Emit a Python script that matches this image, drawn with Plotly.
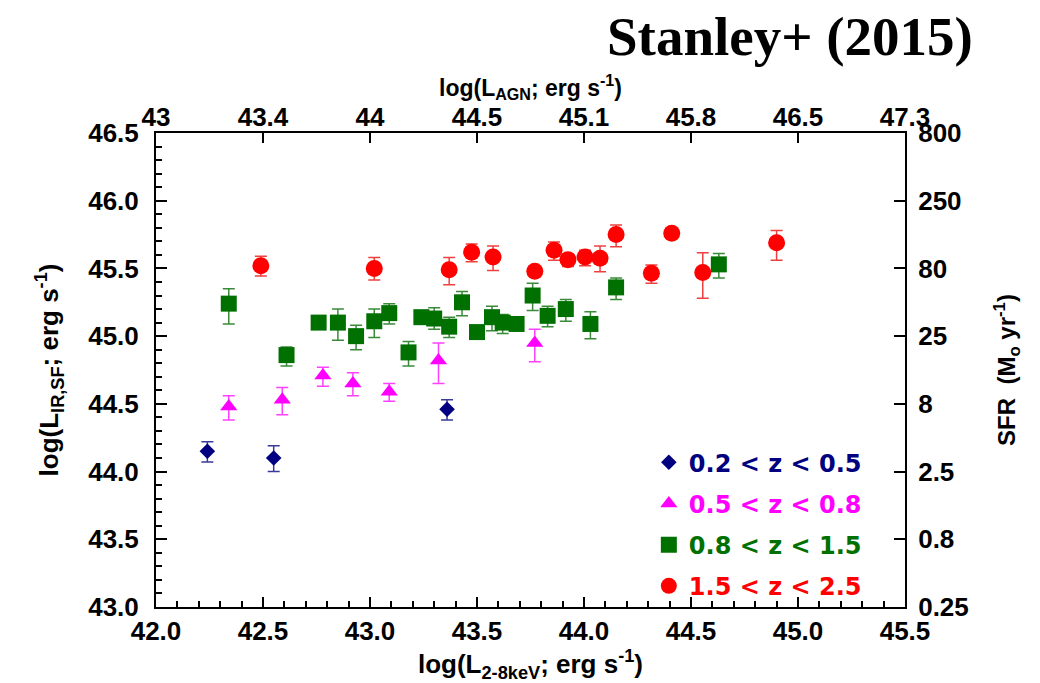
import plotly.graph_objects as go

# ---------------- data ----------------
# 0.2 < z < 0.5
x_z1 = [42.24, 42.55, 43.36]
y_z1 = [44.15, 44.10, 44.46]
ep_z1 = [0.07, 0.09, 0.07]
em_z1 = [0.08, 0.10, 0.08]

# 0.5 < z < 0.8
x_z2 = [42.34, 42.59, 42.78, 42.92, 43.09, 43.32, 43.77]
y_z2 = [44.48, 44.53, 44.71, 44.65, 44.59, 44.82, 44.95]
ep_z2 = [0.08, 0.09, 0.06, 0.08, 0.06, 0.13, 0.10]
em_z2 = [0.10, 0.11, 0.08, 0.09, 0.07, 0.17, 0.14]

# 0.8 < z < 1.5
x_z3 = [42.34, 42.61, 42.76, 42.85, 42.935, 43.02, 43.09, 43.18, 43.24, 43.30, 43.37,
        43.43, 43.50, 43.57, 43.62, 43.685, 43.76, 43.83, 43.915, 44.03, 44.15, 44.63]
y_z3 = [45.24, 44.86, 45.10, 45.10, 45.00, 45.11, 45.17, 44.88, 45.14, 45.13, 45.07,
        45.25, 45.03, 45.14, 45.10, 45.09, 45.30, 45.15, 45.20, 45.09, 45.36, 45.53]
ep_z3 = [0.11, 0.06, 0.04, 0.10, 0.08, 0.09, 0.07, 0.08, 0.04, 0.08, 0.07,
         0.08, 0.04, 0.08, 0.06, 0.04, 0.09, 0.07, 0.07, 0.09, 0.07, 0.08]
em_z3 = [0.15, 0.08, 0.04, 0.13, 0.10, 0.12, 0.08, 0.10, 0.04, 0.08, 0.08,
         0.10, 0.04, 0.10, 0.08, 0.04, 0.11, 0.08, 0.09, 0.11, 0.09, 0.10]

# 1.5 < z < 2.5
x_z4 = [42.49, 43.02, 43.37, 43.475, 43.575, 43.77, 43.86, 43.925, 44.005, 44.075,
        44.15, 44.315, 44.41, 44.555, 44.90]
y_z4 = [45.52, 45.50, 45.49, 45.62, 45.585, 45.48, 45.635, 45.565, 45.585, 45.575,
        45.75, 45.465, 45.76, 45.47, 45.69]
ep_z4 = [0.07, 0.08, 0.09, 0.06, 0.08, 0.03, 0.06, 0.04, 0.05, 0.09,
         0.07, 0.06, 0.03, 0.145, 0.09]
em_z4 = [0.075, 0.085, 0.11, 0.07, 0.10, 0.03, 0.075, 0.05, 0.065, 0.10,
         0.09, 0.075, 0.03, 0.19, 0.13]

# tick labels
x_tickvals = [42.0, 42.5, 43.0, 43.5, 44.0, 44.5, 45.0, 45.5]
x_ticktext = ["42.0", "42.5", "43.0", "43.5", "44.0", "44.5", "45.0", "45.5"]
agn_ticktext = ["43", "43.4", "44", "44.5", "45.1", "45.8", "46.5", "47.3"]
y_tickvals = [43.0, 43.5, 44.0, 44.5, 45.0, 45.5, 46.0, 46.5]
y_ticktext = ["43.0", "43.5", "44.0", "44.5", "45.0", "45.5", "46.0", "46.5"]
sfr_ticktext = ["0.25", "0.8", "2.5", "8", "25", "80", "250", "800"]

series = [
    ("0.2 &lt; z &lt; 0.5", "#000080", "#3a3a9a", "diamond", 12, x_z1, y_z1, ep_z1, em_z1),
    ("0.5 &lt; z &lt; 0.8", "#ff00ff", "#ff40ff", "triangle-up", 15, x_z2, y_z2, ep_z2, em_z2),
    ("0.8 &lt; z &lt; 1.5", "#007000", "#3a8a3a", "square", 16, x_z3, y_z3, ep_z3, em_z3),
    ("1.5 &lt; z &lt; 2.5", "#ff0000", "#ee4040", "circle", 17, x_z4, y_z4, ep_z4, em_z4),
]

FONT = "Liberation Sans, Arial, sans-serif"

fig = go.Figure()
for name, col, ecol, sym, size, xs, ys, ep, em in series:
    fig.add_trace(go.Scatter(
        x=xs, y=ys, mode="markers",
        name=f"<span style='color:{col}'>{name}</span>",
        legendgroup=name,
        marker=dict(symbol=sym, size=size, color=col, line=dict(width=0)),
        error_y=dict(type="data", symmetric=False, array=ep, arrayminus=em,
                     color=ecol, thickness=1.5, width=6),
    ))

# invisible helper trace so the secondary (top / right) axes are drawn
fig.add_trace(go.Scatter(x=x_tickvals, y=y_tickvals, xaxis="x2", yaxis="y2", mode="markers",
                         marker=dict(opacity=0), showlegend=False, hoverinfo="skip"))

tickfont = dict(family=FONT, size=26, color="black", weight="bold")
titlefont = dict(family=FONT, size=26, color="black", weight="bold")

axis_common = dict(showline=True, linewidth=2, linecolor="black", showgrid=False,
                   zeroline=False, ticks="inside", tickwidth=2, tickcolor="black",
                   tickfont=tickfont, automargin=False)

fig.update_layout(
    width=1040, height=683,
    margin=dict(l=156, r=135, t=133, b=76),
    paper_bgcolor="white", plot_bgcolor="white",
    showlegend=True,
    legend=dict(x=0.658, y=0.352, xanchor="left", yanchor="top",
                font=dict(family="DejaVu Sans", size=24, weight="bold"),
                bgcolor="rgba(0,0,0,0)", tracegroupgap=7, traceorder="grouped"),
    xaxis=dict(range=[42.0, 45.5], tickmode="array", tickvals=x_tickvals, ticktext=x_ticktext,
               ticklen=10, minor=dict(dtick=0.1, ticks="inside", ticklen=6, tickwidth=2, tickcolor="black"),
               title=dict(text="log(L<sub>2-8keV</sub>; erg s<sup>-1</sup>)", font=titlefont, standoff=8),
               **axis_common),
    xaxis2=dict(range=[42.0, 45.5], overlaying="x", side="top", anchor="y",
                tickmode="array", tickvals=x_tickvals, ticktext=agn_ticktext, ticklen=10,
                ticklabelstandoff=-5,
                **axis_common),
    yaxis=dict(range=[43.0, 46.5], tickmode="array", tickvals=y_tickvals, ticktext=y_ticktext,
               ticklen=11, ticklabelstandoff=10,
               minor=dict(dtick=0.1, ticks="inside", ticklen=6, tickwidth=2, tickcolor="black"),
               title=dict(text="log(L<sub>IR,SF</sub>; erg s<sup>-1</sup>)", font=titlefont, standoff=22),
               **axis_common),
    yaxis2=dict(range=[43.0, 46.5], overlaying="y", side="right", anchor="x",
                tickmode="array", tickvals=y_tickvals, ticktext=sfr_ticktext, ticklen=11,
                ticklabelstandoff=6,
                title=dict(text="SFR&nbsp;&nbsp;(M<sub>o</sub> yr<sup>-1</sup>)",
                           font=dict(family=FONT, size=24, color="black", weight="bold"), standoff=30),
                **axis_common),
)

# top-axis title
fig.add_annotation(text="log(L<sub>AGN</sub>; erg s<sup>-1</sup>)", xref="paper", yref="paper",
                   x=0.5, y=1.098, xanchor="center", yanchor="middle", showarrow=False,
                   font=dict(family=FONT, size=23, color="black", weight="bold"))

fig.add_annotation(text="Stanley+ (2015)", xref="paper", yref="paper",
                   x=1.0935, y=1.203, xanchor="right", yanchor="middle", showarrow=False,
                   font=dict(family="Liberation Serif, serif", size=55, color="black", weight="bold"))

fig.write_html("out.html")
